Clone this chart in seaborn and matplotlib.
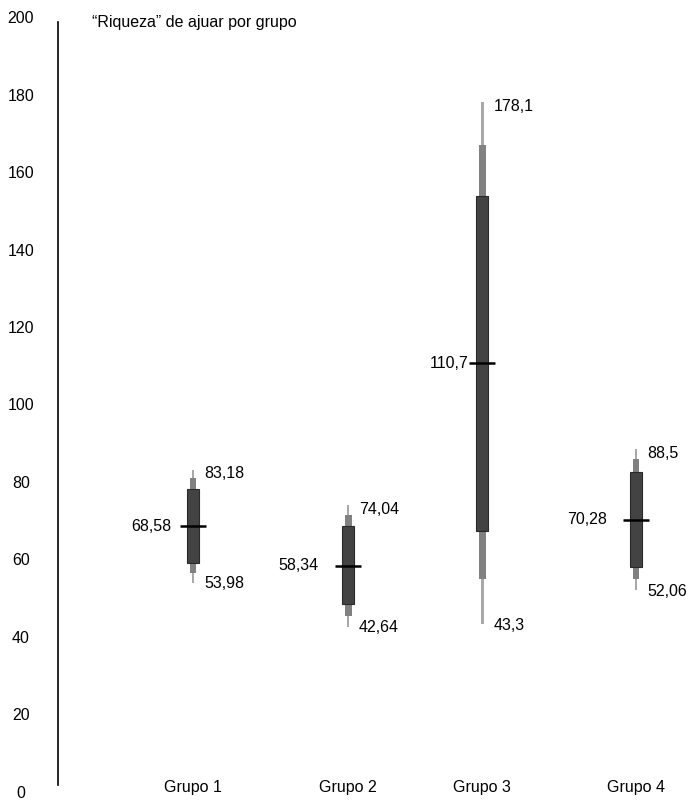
import numpy as np
import pandas as pd
import matplotlib
matplotlib.use('Agg')
import matplotlib.pyplot as plt
import seaborn as sns

# data
grupos = ['Grupo 1', 'Grupo 2', 'Grupo 3', 'Grupo 4']
minimo = [53.98, 42.64, 43.3, 52.06]
maximo = [83.18, 74.04, 178.1, 88.5]
mediana = [68.58, 58.34, 110.7, 70.28]
medio_lo = [56.5, 45.4, 54.9, 54.9]
medio_hi = [81.0, 71.5, 167.0, 85.8]
oscuro_lo = [59.1, 48.4, 67.3, 58.1]
oscuro_hi = [78.2, 68.7, 153.9, 82.5]
lbl_min = ['53,98', '42,64', '43,3', '52,06']
lbl_max = ['83,18', '74,04', '178,1', '88,5']
lbl_med = ['68,58', '58,34', '110,7', '70,28']

# layout (not data)
xpos = [0, 1.05, 1.96, 3]
med_off = [-22, -30, -14, -29]  # px, right edge of median label

sns.set_theme(style='white')
plt.rcParams['font.family'] = ['Liberation Sans', 'DejaVu Sans']
fs = 11.5
plt.rcParams['font.size'] = fs
plt.rcParams['xtick.labelsize'] = fs
plt.rcParams['ytick.labelsize'] = fs
plt.rcParams['text.color'] = 'black'
plt.rcParams['xtick.color'] = 'black'
plt.rcParams['ytick.color'] = 'black'

px = 72 / 100  # points per pixel at dpi 100

fig = plt.figure(figsize=(6.88, 8), dpi=100)
ax = fig.add_axes([58 / 688, 8.3 / 800, 1 - 58 / 688, (791.7 - 17.3) / 800])

df = pd.DataFrame({'grupo': grupos, 'x': xpos, 'mediana': mediana,
                   'min': minimo, 'max': maximo})

# bands: thin full range, medium, dark
ax.bar(xpos, np.subtract(maximo, minimo), bottom=minimo, width=0.017,
       color='#a8a8a8', linewidth=0, zorder=1)
ax.bar(xpos, np.subtract(medio_hi, medio_lo), bottom=medio_lo, width=0.047,
       color='#818181', linewidth=0, zorder=2)
ax.bar(xpos, np.subtract(oscuro_hi, oscuro_lo), bottom=oscuro_lo, width=0.081,
       color='#434343', edgecolor='#2a2a2a', linewidth=0.8, zorder=3)

# median ticks
sns.scatterplot(data=df, x='x', y='mediana', marker='_', s=(27 * px) ** 2,
                color='black', linewidth=1.8, ax=ax, zorder=4, legend=False)

for i in range(len(grupos)):
    ax.annotate(lbl_max[i], (xpos[i], maximo[i]), xytext=(11 * px, -4 * px),
                textcoords='offset points', ha='left', va='center')
    ax.annotate(lbl_min[i], (xpos[i], minimo[i]), xytext=(11 * px, -1 * px),
                textcoords='offset points', ha='left', va='center')
    ax.annotate(lbl_med[i], (xpos[i], mediana[i]), xytext=(med_off[i] * px, 0),
                textcoords='offset points', ha='right', va='center')

ax.text(92 / 688, 1 - 22 / 800, '\u201cRiqueza\u201d de ajuar por grupo',
        transform=fig.transFigure, ha='left', va='center', fontsize=fs)

ax.set_ylim(0, 200)
ax.set_xlim(-0.914, 3.352)
ax.set_yticks(np.arange(0, 201, 20))
ax.set_xticks(xpos, labels=grupos)
ax.tick_params(axis='y', length=0, pad=37 * px)
ax.tick_params(axis='x', length=0, pad=-4 * px)
for t in ax.get_yticklabels():
    t.set_horizontalalignment('center')
for t in ax.get_xticklabels():
    t.set_verticalalignment('center')

for s in ['top', 'right', 'bottom']:
    ax.spines[s].set_visible(False)
ax.spines['left'].set_color('black')
ax.spines['left'].set_linewidth(1.2)
ax.spines['left'].set_bounds(1.7, 198.8)
ax.set_xlabel('')
ax.set_ylabel('')

fig.savefig('out.png', dpi=100)
